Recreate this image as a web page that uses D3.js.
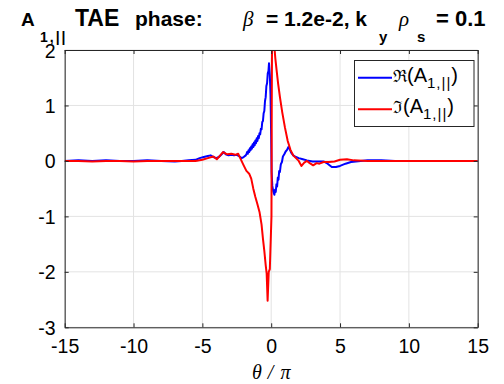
<!DOCTYPE html>
<html>
<head>
<meta charset="utf-8">
<script src="https://cdn.jsdelivr.net/npm/d3@7"></script>
<style>
  html, body { margin: 0; padding: 0; background: #fff; }
  svg { display: block; }
  text { font-family: "Liberation Sans", Arial, Helvetica, sans-serif; fill: #000; }
  .sym { font-family: "Liberation Serif", "Times New Roman", serif; font-style: italic; font-weight: normal; }
</style>
</head>
<body>
<svg id="chart" width="504" height="384"></svg>
<script>
// Parallel vector potential A_{1,||} along the field line (ballooning angle θ/π)
const thetaRe = [-15, -14, -13, -12, -11, -10, -9, -8, -7, -6.5, -6, -5.5, -5.2, -4.9, -4.6, -4.4,
  -4.2, -4.0, -3.8, -3.6, -3.45, -3.3, -3.1, -2.9, -2.7, -2.5, -2.3, -2.15, -2.0, -1.85,
  -1.80, -1.75, -1.70, -1.65, -1.60, -1.55, -1.50, -1.45, -1.40, -1.35, -1.30, -1.25, -1.20,
  -1.15, -1.10, -1.05, -1.00, -0.95, -0.90, -0.85, -0.80, -0.75, -0.70, -0.65, -0.60, -0.55,
  -0.50, -0.45, -0.40, -0.35, -0.30, -0.25, -0.20, -0.16, -0.10, -0.05, 0.00, 0.03, 0.08,
  0.15, 0.23, 0.28, 0.33, 0.38, 0.43, 0.48, 0.53, 0.58, 0.63, 0.70, 0.78, 0.85, 0.95, 1.05,
  1.15, 1.25, 1.35, 1.45, 1.6, 1.8, 2.0, 2.3, 2.6, 3.0, 3.4, 3.8, 4.1, 4.4, 4.7, 5.0, 5.4,
  5.8, 6.5, 7, 8, 9, 10, 11, 12, 13, 14, 15];
const reA = [0.00, 0.01, 0.00, 0.01, 0.00, 0.00, 0.01, 0.00, -0.01, 0.00, 0.01, 0.02, 0.05, 0.07, 0.09, 0.10,
  0.07, 0.05, 0.07, 0.12, 0.16, 0.12, 0.10, 0.11, 0.10, 0.11, 0.08, 0.05, 0.07, 0.10,
  0.12, 0.16, 0.13, 0.19, 0.16, 0.23, 0.19, 0.26, 0.22, 0.30, 0.25, 0.33, 0.28,
  0.37, 0.32, 0.41, 0.36, 0.45, 0.41, 0.50, 0.48, 0.58, 0.57, 0.70, 0.72, 0.86,
  0.90, 1.08, 1.15, 1.35, 1.40, 1.58, 1.62, 1.76, 1.55, 1.20, 0.40, -0.20, -0.45,
  -0.55, -0.61, -0.52, -0.56, -0.42, -0.46, -0.30, -0.34, -0.18, -0.20, -0.06, -0.02, 0.08, 0.12, 0.17,
  0.20, 0.25, 0.21, 0.15, 0.10, 0.07, 0.05, 0.03, 0.01, -0.01, -0.01, -0.01, -0.05, -0.11, -0.11, -0.09, -0.05,
  -0.02, 0.00, 0.01, 0.01, 0.00, 0.00, 0.00, 0.00, 0.00, 0.00, 0.00];

const thetaIm = [-15, -14, -13, -12, -11, -10, -9, -8, -7, -6, -5.5, -5.0, -4.6, -4.2, -3.95, -3.7,
  -3.5, -3.2, -2.9, -2.6, -2.4, -2.25, -2.0, -1.8, -1.6, -1.45, -1.3, -1.15, -1.0, -0.85,
  -0.7, -0.6, -0.5, -0.4, -0.33, -0.26, -0.18, -0.1, 0.02, 0.04, 0.06, 0.1, 0.2, 0.3, 0.4,
  0.5, 0.64, 0.8, 1.0, 1.2, 1.4, 1.6, 1.8, 2.0, 2.2, 2.4, 2.6, 2.8, 3.05, 3.3, 3.5, 3.8,
  4.2, 4.6, 5.0, 5.5, 6, 7, 8, 9, 10, 11, 12, 13, 14, 15];
const imA = [0.00, 0.00, -0.01, 0.00, 0.00, -0.01, 0.00, 0.00, 0.00, 0.00, 0.00, 0.02, 0.05, 0.08, 0.03, 0.10,
  0.16, 0.12, 0.13, 0.11, 0.13, 0.05, -0.08, -0.18, -0.23, -0.32, -0.50, -0.65, -0.78, -0.92,
  -1.15, -1.40, -1.62, -1.88, -2.03, -2.52, -2.00, -1.95, -1.00, 1.00, 2.10, 2.20, 2.15, 1.85, 1.62,
  1.40, 1.14, 0.88, 0.60, 0.36, 0.20, 0.10, 0.05, 0.00, -0.09, -0.03, 0.00, -0.04, -0.08, -0.04, -0.05, -0.02,
  -0.02, -0.01, 0.02, 0.03, 0.01, 0.00, 0.00, 0.00, 0.00, 0.00, 0.00, 0.00, 0.00, 0.00];

const xTicks = [-15, -10, -5, 0, 5, 10, 15];
const yTicks = [-3, -2, -1, 0, 1, 2];

const svg = d3.select("#chart");
const W = 504, H = 384;
const m = { left: 64.7, right: 26.3, top: 50, bottom: 56.7 };

const x = d3.scaleLinear().domain([-15, 15]).range([m.left, W - m.right]);
const y = d3.scaleLinear().domain([-3, 2]).range([H - m.bottom, m.top]);

const axisColor = "#262626";
const gridColor = "#e3e3e3";

// grid
const grid = svg.append("g");
grid.selectAll("line.gx").data(xTicks).join("line")
  .attr("x1", d => x(d)).attr("x2", d => x(d))
  .attr("y1", m.top).attr("y2", H - m.bottom)
  .attr("stroke", gridColor).attr("stroke-width", 1);
grid.selectAll("line.gy").data(yTicks).join("line")
  .attr("x1", m.left).attr("x2", W - m.right)
  .attr("y1", d => y(d)).attr("y2", d => y(d))
  .attr("stroke", gridColor).attr("stroke-width", 1);

// curves, clipped to the axes box
svg.append("clipPath").attr("id", "plotclip").append("rect")
  .attr("x", m.left).attr("y", m.top)
  .attr("width", W - m.left - m.right).attr("height", H - m.top - m.bottom);

const line = d3.line().x(d => x(d[0])).y(d => y(d[1]));
const reSeries = thetaRe.map((t, i) => [t, reA[i]]);
const imSeries = thetaIm.map((t, i) => [t, imA[i]]);

const curves = svg.append("g").attr("clip-path", "url(#plotclip)");
curves.append("path").datum(reSeries).attr("d", line)
  .attr("fill", "none").attr("stroke", "#0000ff").attr("stroke-width", 2).attr("stroke-linejoin", "round");
curves.append("path").datum(imSeries).attr("d", line)
  .attr("fill", "none").attr("stroke", "#ff0000").attr("stroke-width", 2).attr("stroke-linejoin", "round");

// axes (ticks pointing inward, box on)
const fmt = d => String(d);
const tickFont = 19.5;
const gx = svg.append("g").attr("transform", `translate(0,${H - m.bottom})`)
  .call(d3.axisBottom(x).tickValues(xTicks).tickFormat(fmt).tickSizeInner(-4).tickSizeOuter(0).tickPadding(0));
gx.selectAll("text").attr("y", 26).attr("dy", 0).style("font-size", tickFont + "px").attr("fill", "#000");
const gy = svg.append("g").attr("transform", `translate(${m.left},0)`)
  .call(d3.axisLeft(y).tickValues(yTicks).tickFormat(fmt).tickSizeInner(-4).tickSizeOuter(0).tickPadding(0));
gy.selectAll("text").attr("x", -9).attr("dy", "0.36em").style("font-size", tickFont + "px").attr("fill", "#000");
const gxTop = svg.append("g").attr("transform", `translate(0,${m.top})`)
  .call(d3.axisTop(x).tickValues(xTicks).tickFormat("").tickSizeInner(-4).tickSizeOuter(0));
const gyRight = svg.append("g").attr("transform", `translate(${W - m.right},0)`)
  .call(d3.axisRight(y).tickValues(yTicks).tickFormat("").tickSizeInner(-4).tickSizeOuter(0));
[gx, gy, gxTop, gyRight].forEach(g => {
  g.select(".domain").attr("stroke", axisColor).attr("stroke-width", 1);
  g.selectAll(".tick line").attr("stroke", axisColor);
});

// x label
const xl = svg.append("text").attr("x", x(0)).attr("y", 379).attr("text-anchor", "middle")
  .attr("class", "sym").style("font-size", "20px");
xl.append("tspan").text("θ");
xl.append("tspan").attr("dx", 6).text("/");
xl.append("tspan").attr("dx", 7).text("π");

// title
const tBase = 26, tSub = 42;
function tt(str, px, py, size, cls) {
  const t = svg.append("text").attr("x", px).attr("y", py).style("font-size", size + "px").text(str);
  if (cls) t.attr("class", cls); else t.style("font-weight", "bold");
  return t;
}
tt("A", 21, tBase, 19);
tt("1,||", 40, tSub, 14).style("letter-spacing", "2px");
tt("TAE", 75, tBase, 23);
tt("phase:", 135, tBase, 21);
tt("β", 243, tBase, 21, "sym");
tt("= 1.2e-2, k", 266, tBase, 21);
tt("y", 379, tSub, 15);
tt("ρ", 399, tBase, 21, "sym");
tt("s", 417, tSub, 15);
tt("= 0.1", 436, tBase, 22);

// legend
const leg = svg.append("g");
leg.append("rect").attr("x", 354.5).attr("y", 60.5).attr("width", 119.5).attr("height", 66)
  .attr("fill", "#fff").attr("stroke", axisColor).attr("stroke-width", 1);
const legItems = [
  { sym: "ℜ", color: "#0000ff", ly: 77.7 },
  { sym: "ℑ", color: "#ff0000", ly: 109.3 }
];
legItems.forEach(it => {
  leg.append("line").attr("x1", 358).attr("x2", 392).attr("y1", it.ly).attr("y2", it.ly)
    .attr("stroke", it.color).attr("stroke-width", 2);
  const t = leg.append("text").attr("x", 393).attr("y", it.ly + 4).style("font-size", "20px");
  t.append("tspan").style("font-family", "'DejaVu Serif', serif").style("font-size", "17px").text(it.sym);
  t.append("tspan").text("(A");
  t.append("tspan").attr("dy", 6).style("font-size", "15px").style("letter-spacing", "1px").text("1,||");
  t.append("tspan").attr("dy", -6).text(")");
});
</script>
</body>
</html>
